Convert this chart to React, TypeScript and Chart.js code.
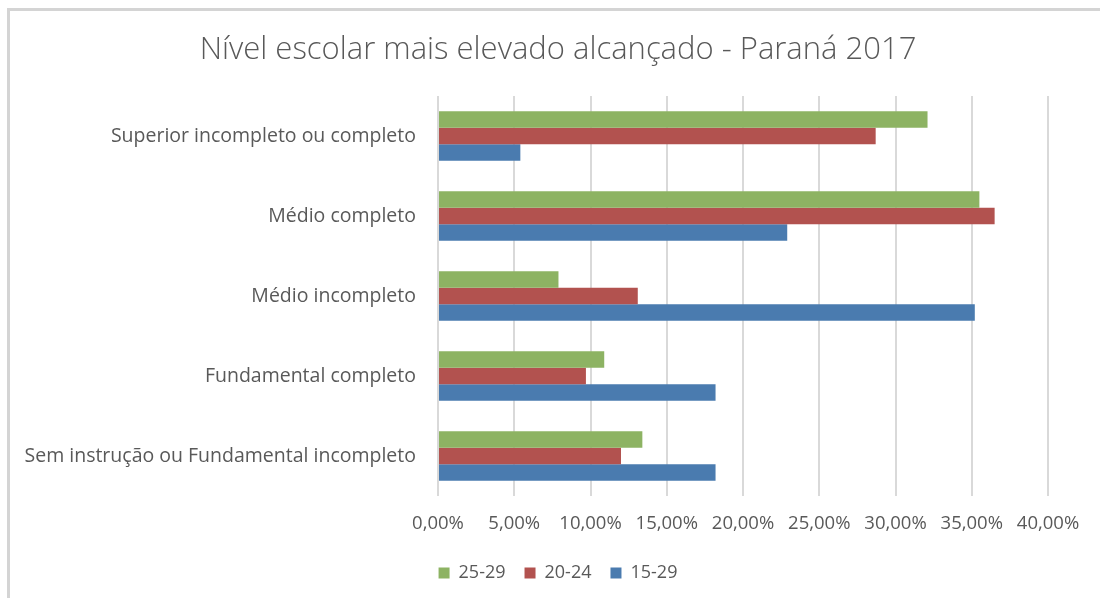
import React, { useEffect, useRef } from "react";
import { Chart, registerables } from "chart.js";

Chart.register(...registerables);

const categories = [
  "Superior incompleto ou completo",
  "Médio completo",
  "Médio incompleto",
  "Fundamental completo",
  "Sem instrução ou Fundamental incompleto",
];
const seriesNames = ["25-29", "20-24", "15-29"];
const values2529 = [32.1, 35.5, 7.9, 10.9, 13.4];
const values2024 = [28.7, 36.5, 13.1, 9.7, 12.0];
const values1529 = [5.4, 22.9, 35.2, 18.2, 18.2];
const seriesColors = ["#8DB363", "#B2524F", "#4A7BAF"];
const titleText = "Nível escolar mais elevado alcançado - Paraná 2017";
const xMin = 0;
const xMax = 40;
const xStep = 5;

const FONT = "'Open Sans', 'DejaVu Sans', sans-serif";
const TEXT = "#595959";

export default function App() {
  const ref = useRef<HTMLCanvasElement | null>(null);

  useEffect(() => {
    if (!ref.current) return;
    const chart = new Chart(ref.current, {
      type: "bar",
      data: {
        labels: categories,
        datasets: [values2529, values2024, values1529].map((d, i) => ({
          label: seriesNames[i],
          data: d,
          backgroundColor: seriesColors[i],
          borderWidth: 0,
          categoryPercentage: 0.62,
          barPercentage: 1.0,
        })),
      },
      options: {
        indexAxis: "y",
        animation: false,
        responsive: false,
        maintainAspectRatio: false,
        layout: { padding: { left: 16, right: 0, top: 0, bottom: 6 } },
        plugins: {
          title: {
            display: true,
            text: titleText,
            color: TEXT,
            font: { family: FONT, size: 31, weight: "300" },
            padding: { top: 32, bottom: 26.8 },
          },
          legend: {
            position: "bottom",
            labels: {
              color: TEXT,
              font: { family: FONT, size: 18 },
              boxWidth: 11,
              boxHeight: 11,
              padding: 19,
            },
          },
          tooltip: { enabled: false },
        },
        scales: {
          x: {
            min: xMin,
            max: xMax,
            ticks: {
              stepSize: xStep,
              color: TEXT,
              font: { family: FONT, size: 18.5 },
              padding: 17,
              maxRotation: 0,
              autoSkip: false,
              callback: (v: any) => Number(v).toFixed(2).replace(".", ",") + "%",
            },
            grid: { color: "#D9D9D9", lineWidth: 2, drawTicks: false },
            border: { display: false },
            afterFit: (s: any) => {
              s.height = 49;
            },
          },
          y: {
            ticks: {
              color: TEXT,
              font: { family: FONT, size: 19.5 },
              padding: 22,
            },
            grid: { display: false, drawTicks: false },
            border: { display: false },
            afterFit: (s: any) => {
              s.width = 422;
            },
          },
          yRight: {
            type: "category",
            position: "right",
            display: true,
            ticks: { display: false },
            grid: { display: false, drawTicks: false },
            border: { display: false },
            afterFit: (s: any) => {
              s.width = 52;
            },
          },
        },
      },
    });
    return () => chart.destroy();
  }, []);

  return (
    <div
      style={{
        position: "fixed",
        left: 0,
        top: 0,
        width: 1100,
        height: 598,
        background: "#fff",
      }}
    >
      <div
        style={{
          position: "absolute",
          left: 7,
          top: 8,
          right: 0,
          bottom: 0,
          borderLeft: "3px solid #D4D4D4",
          borderTop: "3px solid #D4D4D4",
        }}
      />
      <canvas
        ref={ref}
        width={1100}
        height={598}
        style={{ position: "absolute", left: 0, top: 0, width: 1100, height: 598 }}
      />
    </div>
  );
}
